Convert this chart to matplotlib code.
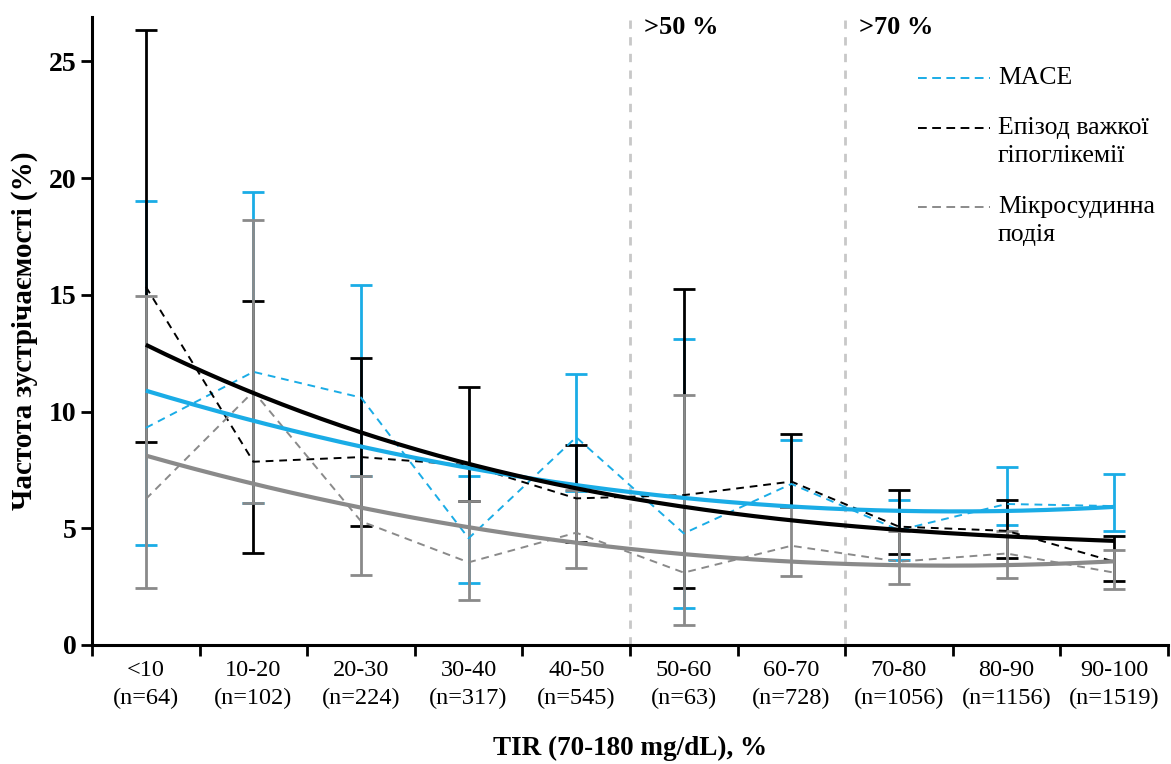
import numpy as np
import matplotlib
matplotlib.use("Agg")
import matplotlib.pyplot as plt
from matplotlib.lines import Line2D

plt.rcParams['font.family'] = ['Liberation Serif', 'DejaVu Serif']

categories = ["<10", "10-20", "20-30", "30-40", "40-50", "50-60", "60-70", "70-80", "80-90", "90-100"]
counts = [64, 102, 224, 317, 545, 63, 728, 1056, 1156, 1519]

# MACE
mace_mean = [9.3, 11.7, 10.6, 4.57, 8.9, 4.78, 6.9, 4.92, 6.04, 5.95]
mace_low = [4.3, 6.1, 7.25, 2.67, 6.6, 1.6, 5.9, 3.64, 5.14, 4.89]
mace_high = [19.0, 19.4, 15.4, 7.25, 11.6, 13.1, 8.8, 6.21, 7.62, 7.32]
mace_trend = [10.9, 9.61, 8.47, 7.6, 6.85, 6.32, 5.92, 5.74, 5.74, 5.92]

# Severe hypoglycaemia
hypo_mean = [15.35, 7.85, 8.05, 7.7, 6.28, 6.42, 7.0, 5.07, 4.89, 3.57]
hypo_low = [8.7, 3.96, 5.08, 6.18, 4.4, 2.43, 5.9, 3.9, 3.72, 2.75]
hypo_high = [26.35, 14.75, 12.3, 11.03, 8.55, 15.23, 9.03, 6.64, 6.22, 4.68]
hypo_trend = [12.84, 10.83, 9.1, 7.78, 6.66, 5.92, 5.37, 4.92, 4.67, 4.45]

# Microvascular event
micro_mean = [6.25, 10.86, 5.3, 3.54, 4.81, 3.1, 4.25, 3.57, 3.92, 3.1]
micro_low = [2.43, 6.07, 3.0, 1.93, 3.28, 0.86, 2.95, 2.61, 2.88, 2.38]
micro_high = [14.95, 18.22, 7.25, 6.18, 6.63, 10.73, 5.9, 4.9, 4.9, 4.08]
micro_trend = [8.15, 6.85, 5.86, 5.07, 4.42, 3.9, 3.57, 3.38, 3.42, 3.6]

legend_labels = [["MACE"], ["Епізод важкої", "гіпоглікемії"], ["Мікросудинна", "подія"]]
zone_labels = [">50 %", ">70 %"]
zone_bounds = [4.5, 6.5]

BLUE = "#1aace6"
BLACK = "#000000"
GRAY = "#8a8a8a"

W, H = 1171, 764
fig = plt.figure(figsize=(W/100, H/100), dpi=100)
ax = fig.add_axes([92/W, 1-645/H, (1168-92)/W, (645-17)/H])

x = np.arange(len(categories))
xs = np.linspace(0, len(categories)-1, 200)

series = [
    (mace_mean, mace_low, mace_high, mace_trend, BLUE, 1),
    (hypo_mean, hypo_low, hypo_high, hypo_trend, BLACK, 2),
    (micro_mean, micro_low, micro_high, micro_trend, GRAY, 3),
]

for mean, low, high, trend, col, z in series:
    mean = np.array(mean); low = np.array(low); high = np.array(high)
    ax.errorbar(x, mean, yerr=[mean-low, high-mean], fmt='none', ecolor=col,
                elinewidth=2.0, capsize=8, capthick=2.0, zorder=z)

for mean, low, high, trend, col, z in series:
    ax.plot(x, mean, color=col, lw=1.4, ls=(0, (4, 3)), zorder=4)

for mean, low, high, trend, col, z in series:
    coef = np.polyfit(x, trend, 3)
    ax.plot(xs, np.polyval(coef, xs), color=col, lw=3, zorder=5, solid_capstyle='butt')

for b, lab in zip(zone_bounds, zone_labels):
    ax.axvline(b, color="#c8c8c8", lw=2, ls=(0, (3, 3)), zorder=0)
    ax.text(b + 0.13, 1 - (27 - 17) / (645 - 17), lab, transform=ax.get_xaxis_transform(),
            fontsize=19, fontweight='bold', ha='left', va='center')

ax.set_xlim(-0.5, len(categories)-0.5)
ax.set_ylim(0, 26.9)

ax.set_xticks(x)
ax.set_xticklabels([f"{c}\n(n={n})" for c, n in zip(categories, counts)], fontsize=17.5, linespacing=1.38)
ax.set_xticks(np.arange(-0.5, len(categories), 1), minor=True)
ax.tick_params(axis='x', which='major', length=0, pad=11)
ax.tick_params(axis='x', which='minor', length=8, width=2, direction='out')

ax.set_yticks([0, 5, 10, 15, 20, 25])
ax.tick_params(axis='y', length=8, width=2, direction='out', labelsize=20, pad=3)
for lab in ax.get_yticklabels():
    lab.set_fontweight('bold')

for s in ['top', 'right']:
    ax.spines[s].set_visible(False)
for s in ['left', 'bottom']:
    ax.spines[s].set_linewidth(2.2)

ax.set_ylabel("Частота зустрічаємості (%)", fontsize=21, fontweight='bold', labelpad=8)
ax.set_xlabel("TIR (70-180 mg/dL), %", fontsize=19.5, fontweight='bold', labelpad=20)

# legend drawn manually so the handle aligns with the first line of each label
leg_rows = [78, 128, 207]
line_gap = 28
for col, rows, y0 in zip([BLUE, BLACK, GRAY], legend_labels, leg_rows):
    fig.add_artist(Line2D([918/W, 990/W], [1-y0/H, 1-y0/H], color=col, lw=1.4,
                          ls=(0, (4.5, 2.8)), transform=fig.transFigure))
    for i, t in enumerate(rows):
        fig.text(998/W, 1-(y0 + i*line_gap)/H, t, fontsize=18.5, ha='left', va='center')

fig.savefig("out.png", dpi=100)
